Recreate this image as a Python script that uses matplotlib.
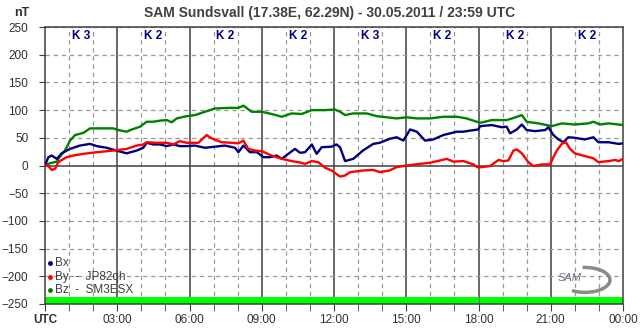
import matplotlib
matplotlib.use("Agg")
import matplotlib.pyplot as plt
from matplotlib.patches import Arc

plt.rcParams['font.family'] = ['Liberation Sans', 'DejaVu Sans']

# time in hours UTC and field values in nT
bz_t = [0, 0.2, 0.49, 0.6, 0.83, 1.04, 1.25, 1.6, 1.87, 2.84, 3.04, 3.39, 3.6, 3.95,
        4.22, 4.5, 4.78, 5.05, 5.26, 5.47, 5.88, 6.23, 6.64, 7.06, 7.61, 8.03, 8.24,
        8.58, 9.0, 9.41, 9.83, 10.24, 10.66, 11.08, 11.63, 12.04, 12.25, 12.46, 12.8,
        13.36, 13.78, 14.6, 15.02, 15.44, 16.0, 16.54, 17.1, 17.5, 17.93, 18.07,
        18.55, 19.17, 19.4, 19.8, 20.0, 20.49, 21.04, 21.46, 22.0, 22.56, 22.77,
        23.04, 23.4, 24.0]
bz = [0, 4, 7, 15, 27, 45, 55, 59, 67, 67, 64, 61, 65, 70,
      79, 79, 81, 82, 78, 85, 89, 91, 97, 103, 104, 104, 108,
      97, 97, 93, 88, 94, 93, 100, 100, 101, 97, 91, 94,
      94, 89, 85, 87, 85, 85, 88, 88, 85, 79, 77,
      82, 82, 85, 91, 79, 76, 71, 76, 74, 76, 79,
      74, 76, 73]

bx_t = [0, 0.14, 0.28, 0.49, 0.69, 1.04, 1.45, 1.87, 2.15, 2.56, 3.04, 3.39, 3.81,
        4.08, 4.22, 4.5, 4.78, 5.05, 5.33, 5.6, 5.88, 6.23, 6.64, 7.06, 7.47, 7.89,
        8.03, 8.24, 8.51, 8.8, 9.07, 9.34, 9.62, 9.83, 10.1, 10.38, 10.59, 10.8,
        11.08, 11.28, 11.49, 11.9, 12.1, 12.25, 12.46, 12.8, 13.2, 13.63, 13.9,
        14.3, 14.6, 14.88, 15.16, 15.44, 15.78, 16.12, 16.54, 16.82, 17.1, 17.37,
        17.65, 17.99, 18.07, 18.55, 18.97, 19.17, 19.31, 19.59, 19.8, 20.0, 20.35,
        20.77, 20.9, 21.11, 21.32, 21.52, 21.73, 22.0, 22.42, 22.77, 22.98, 23.4,
        23.82, 24.0]
bx = [0, 15, 18, 12, 22, 30, 36, 39, 35, 32, 26, 22, 27,
      32, 41, 38, 38, 35, 38, 35, 35, 36, 32, 34, 36, 32,
      24, 36, 24, 24, 15, 15, 18, 12, 21, 30, 23, 24,
      38, 21, 33, 34, 38, 33, 8, 12, 27, 39, 41,
      48, 51, 45, 65, 61, 45, 47, 55, 58, 61, 61,
      63, 65, 71, 73, 69, 70, 58, 65, 74, 64, 62,
      64, 69, 55, 47, 42, 51, 50, 47, 51, 42, 42,
      39, 40]

by_t = [0, 0.14, 0.28, 0.42, 0.55, 0.9, 1.18, 1.59, 2.15, 2.84, 3.39, 3.81, 4.08,
        4.22, 4.64, 5.05, 5.33, 5.6, 5.88, 6.37, 6.71, 6.92, 7.34, 7.75, 8.03, 8.24,
        8.44, 8.72, 9.0, 9.41, 9.83, 10.24, 10.52, 10.8, 11.08, 11.35, 11.63, 11.9,
        12.25, 12.46, 12.67, 13.2, 13.63, 13.9, 14.3, 14.6, 15.02, 15.58, 16.0,
        16.4, 16.68, 16.96, 17.37, 17.79, 17.95, 18.13, 18.48, 18.83, 19.03, 19.24,
        19.45, 19.59, 19.8, 20.07, 20.28, 20.63, 20.97, 21.11, 21.25, 21.46, 21.63,
        21.8, 22.0, 22.42, 22.77, 22.98, 23.4, 23.68, 23.82, 24.0]
by = [0, -1, -8, -6, 6, 15, 18, 21, 24, 27, 30, 36, 38,
      42, 41, 41, 38, 44, 41, 41, 55, 49, 42, 41, 40, 45,
      30, 27, 26, 18, 12, 8, 6, 3, 8, 6, -4, -9,
      -20, -18, -12, -9, -8, -12, -9, -3, 0, 3, 5,
      9, 12, 7, 8, 2, -3, -3, -1, 10, 8, 9,
      27, 29, 22, 6, -1, 2, 2, 15, 27, 39, 42,
      30, 22, 17, 13, 6, 8, 10, 8, 12]

k_index = [3, 2, 2, 2, 3, 2, 2, 2]
tick_labels = ['UTC', '03:00', '06:00', '09:00', '12:00', '15:00', '18:00', '21:00', '00:00']
bar_spans = [(0, 18.0), (18.08, 5.92)]

fig = plt.figure(figsize=(6.43, 3.31), dpi=100)
ax = fig.add_axes([45 / 643, 1 - 304 / 331, 578 / 643, 277 / 331])
ax.set_xlim(0, 24)
ax.set_ylim(-250, 250)

dash = '#9a9a9a'
solid = '#404040'
for h in range(1, 24):
    if h % 3:
        ax.axvline(h, color=dash, lw=0.9, ls=(0, (3.5, 3)), zorder=1)
    else:
        ax.axvline(h, color=solid, lw=1.1, zorder=1)
for v in range(-200, 251, 50):
    if v != 0:
        ax.axhline(v, color=dash, lw=0.9, ls=(0, (3.5, 3)), zorder=1)
ax.axhline(0, color=solid, lw=1.1, zorder=1)

ax.broken_barh(bar_spans, (-250, 12), facecolors='#00ff00', zorder=2)

ax.plot(bz_t, bz, color='#008000', lw=1.7, zorder=3)
ax.plot(bx_t, bx, color='#000080', lw=1.7, zorder=4)
ax.plot(by_t, by, color='#ff0000', lw=1.7, zorder=5)

for i, k in enumerate(k_index):
    ax.text(1.5 + 3 * i, 234, 'K %d' % k, color='#000080', fontsize=8.5,
            fontweight='bold', ha='center', va='center')

for s in ax.spines.values():
    s.set_color(solid)
    s.set_linewidth(1.1)

ax.set_yticks(range(-250, 251, 50))
ax.set_xticks(range(0, 25, 3))
ax.set_xticks(range(0, 25), minor=True)
ax.set_xticklabels(tick_labels)
ax.tick_params(axis='both', which='both', direction='out', colors=solid,
               labelcolor='#303030', labelsize=8.5)
ax.tick_params(axis='x', which='major', length=5, pad=2)
ax.tick_params(axis='x', which='minor', length=5)
ax.tick_params(axis='y', length=4, pad=8)
ax.get_xticklabels()[0].set_fontweight('bold')

# legend
legend = [('Bx', '#000080'), ('By  -  JP82qh', '#ff0000'), ('Bz  -  SM3ESX', '#008000')]
for i, (name, c) in enumerate(legend):
    y = 0.147 - i * 0.049
    ax.plot([0.008], [y], 'o', ms=2.5, color=c, transform=ax.transAxes, zorder=6)
    ax.text(0.017, y, name, color='#404040', fontsize=8.5, va='center',
            transform=ax.transAxes, zorder=6)

# SAM logo
ax.add_patch(Arc((0.934, 0.087), 0.087, 0.09, theta1=-120, theta2=95,
                 transform=ax.transAxes, color='#8a8a8a', lw=2.5, zorder=6))
ax.text(0.908, 0.094, 'SAM', fontsize=8, style='italic', color='#6a6a8a',
        ha='center', va='center', transform=ax.transAxes, zorder=7)

fig.text(330 / 643, 1 - 13 / 331, 'SAM Sundsvall (17.38E, 62.29N) - 30.05.2011 / 23:59 UTC',
         ha='center', va='center', fontsize=10, fontweight='bold', color='#404040')
fig.text(22 / 643, 1 - 13 / 331, 'nT', ha='center', va='center', fontsize=9,
         fontweight='bold', color='#303030')

fig.savefig('out.png', dpi=100)
